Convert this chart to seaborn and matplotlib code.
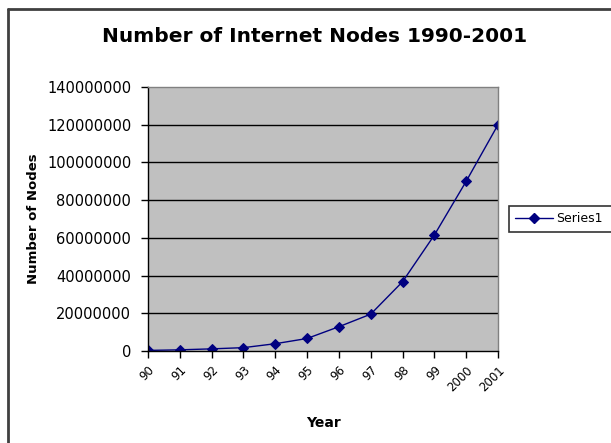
import matplotlib
matplotlib.use("Agg")
import matplotlib.pyplot as plt
from matplotlib.lines import Line2D
import seaborn as sns
import pandas as pd

# Internet node counts per year
years = ["90", "91", "92", "93", "94", "95", "96", "97", "98", "99", "2000", "2001"]
nodes = [313000, 617000, 1136000, 1776000, 3864000, 6642000,
         12881000, 19540000, 36739000, 61500000, 90000000, 120000000]
y_ticks = [0, 20000000, 40000000, 60000000, 80000000, 100000000, 120000000, 140000000]

df = pd.DataFrame({"Year": years, "Nodes": nodes})

sns.set_theme(style="white")
plt.rcParams["font.family"] = ["DejaVu Sans"]
plt.rcParams["text.color"] = "black"
plt.rcParams["axes.labelcolor"] = "black"
plt.rcParams["xtick.color"] = "black"
plt.rcParams["ytick.color"] = "black"

fig = plt.figure(figsize=(6.11, 4.43), dpi=100)
ax = fig.add_axes([148 / 611, 1 - 351 / 443, 350 / 611, 264 / 443])
ax.set_facecolor("#C0C0C0")

sns.lineplot(data=df, x="Year", y="Nodes", ax=ax, color="#000080", lw=1.0,
             marker="D", markersize=5, markeredgecolor="#000080",
             label="Series1", legend=False)

ax.set_xlim(0, len(years) - 1)
ax.set_ylim(0, 140000000)
ax.set_yticks(y_ticks)
ax.set_yticklabels([str(v) for v in y_ticks], fontsize=10.5)
ax.set_xticks(range(len(years)))
ax.set_xticklabels(years, rotation=45, ha="right", rotation_mode="anchor", fontsize=8.5)
ax.grid(False)
for v in y_ticks[1:-1]:
    ax.axhline(v, color="black", lw=1.0, zorder=1)

ax.tick_params(axis="y", which="major", direction="out", length=5, width=1,
               color="black", left=True, pad=7)
ax.tick_params(axis="x", which="major", direction="out", length=5, width=1,
               color="black", bottom=True, pad=4)
for side in ["top", "right"]:
    ax.spines[side].set_color("#808080")
    ax.spines[side].set_linewidth(1.0)
for side in ["left", "bottom"]:
    ax.spines[side].set_color("black")
    ax.spines[side].set_linewidth(1.0)

ax.set_xlabel("Year", fontsize=10, fontweight="bold")
ax.set_ylabel("Number of Nodes", fontsize=9.5, fontweight="bold")
ax.xaxis.set_label_coords(0.5, -0.245)
ax.yaxis.set_label_coords(-0.31, 0.5)

fig.text(315 / 611, 1 - 37 / 443, "Number of Internet Nodes 1990-2001",
         ha="center", va="center", fontsize=14.5, fontweight="bold")

# legend box running to the right edge
handle = Line2D([], [], color="#000080", lw=1.0, marker="D", markersize=5)
leg = fig.legend([handle], ["Series1"], loc="center left", mode="expand",
                 bbox_to_anchor=(509 / 611, 1 - 219 / 443, 106 / 611, 0.0),
                 fontsize=9, frameon=True, fancybox=False, shadow=False,
                 borderpad=0.5, handlelength=3.0, handletextpad=0.3,
                 borderaxespad=0)
leg.get_frame().set_edgecolor("black")
leg.get_frame().set_linewidth(1.2)

# outer chart frame
fig.add_artist(Line2D([8 / 611, 8 / 611], [0, 1 - 9 / 443], color="#404040", lw=2,
                      transform=fig.transFigure))
fig.add_artist(Line2D([8 / 611, 1], [1 - 9 / 443, 1 - 9 / 443], color="#404040", lw=2,
                      transform=fig.transFigure))

fig.savefig("out.png", dpi=100)
